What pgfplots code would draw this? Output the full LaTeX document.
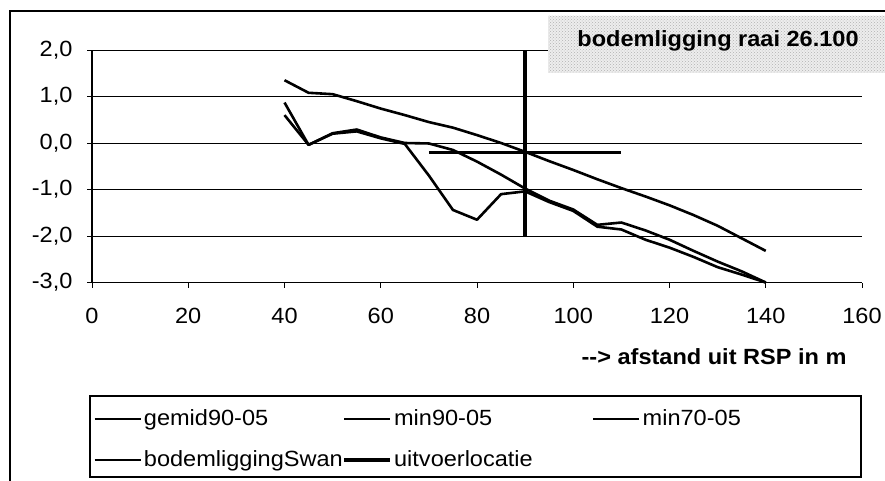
\documentclass[border=0pt]{standalone}
\usepackage{fontspec}
\setmainfont[FakeStretch=1.07]{Liberation Sans}
\usepackage{pgfplots}
\pgfplotsset{compat=1.18}
\usetikzlibrary{patterns}
\begin{document}
\fontsize{22}{26}\selectfont
\begin{tikzpicture}[x=1pt,y=1pt]
\useasboundingbox (0,0) rectangle (885,480);
\begin{axis}[
  at={(92pt,197.5pt)}, anchor=south west, scale only axis,
  width=770pt, height=232.5pt,
  xmin=0, xmax=160, ymin=-3, ymax=2,
  xtick={0,20,...,160}, ytick={-3,-2,...,2},
  axis x line*=bottom, axis y line*=left,
  axis line style={line width=1.2pt, -},
  ymajorgrids, grid style={line width=1pt, black},
  tick align=outside, major tick length=5pt,
  tick style={line width=1pt, black},
  /pgf/number format/assume math mode=true,
  ticklabel style={font=\fontsize{22}{26}\selectfont},
  yticklabel style={xshift=-7pt, /pgf/number format/.cd, fixed, fixed zerofill, precision=1, use comma},
  xticklabel style={yshift=-13pt, /pgf/number format/.cd, fixed, precision=0, 1000 sep={}},
  every axis plot post/.append style={
    legend image code/.code={\draw[#1] (0pt,0pt) -- (46pt,0pt);}},
  legend columns=3,
  legend cell align=left,
  legend style={at={(-0.004,-0.4925)}, anchor=north west, draw=none,
    font=\fontsize{22}{26}\selectfont, inner xsep=4pt, inner ysep=10pt,
    row sep=18pt},
  clip=false,
]
\addplot[black, line width=2.6pt, line join=round] coordinates {
(40,1.35) (45,1.08) (50,1.05) (55,0.90) (60,0.74) (65,0.60) (70,0.45) (75,0.33)
(80,0.17) (85,0.00) (90,-0.19) (95,-0.39) (100,-0.58) (105,-0.78) (110,-0.97)
(115,-1.15) (120,-1.34) (125,-1.55) (130,-1.78) (135,-2.05) (140,-2.32)};
\addlegendentry{\makebox[196pt][l]{gemid90-05}}
\addplot[black, line width=2.6pt, line join=round] coordinates {
(40,0.87) (45,-0.04) (50,0.21) (55,0.29) (60,0.12) (65,0.00) (70,-0.01) (75,-0.15)
(80,-0.40) (85,-0.68) (90,-0.98) (95,-1.24) (100,-1.43) (105,-1.76) (110,-1.71)
(115,-1.88) (120,-2.08) (125,-2.32) (130,-2.55) (135,-2.76) (140,-3.00)};
\addlegendentry{\makebox[196pt][l]{min90-05}}
\addplot[black, line width=2.6pt, line join=round] coordinates {
(40,0.60) (45,-0.04) (50,0.20) (55,0.25) (60,0.10) (65,-0.02) (70,-0.70) (75,-1.44)
(80,-1.65) (85,-1.10) (90,-1.04) (95,-1.27) (100,-1.46) (105,-1.80) (110,-1.86)
(115,-2.08) (120,-2.25) (125,-2.45) (130,-2.67) (135,-2.83) (140,-3.00)};
\addlegendentry{\makebox[196pt][l]{min70-05}}
\addplot[black, line width=2.8pt] coordinates {(70,-0.2) (110,-0.2)};
\addlegendentry{\makebox[196pt][l]{bodemliggingSwan}}
\addplot[black, line width=4.2pt] coordinates {(90,2) (90,-2)};
\addlegendentry{\makebox[196pt][l]{uitvoerlocatie}}
\end{axis}
% legend frame
\draw[line width=1.2pt] (90,3) rectangle (861,84);
% outer chart frame (left and top edges visible)
\draw[line width=2pt] (10,-5) -- (10,469) -- (890,469);
% title box
\fill[gray!14] (548,407) rectangle (890,464);
\fill[pattern=crosshatch dots, pattern color=gray!60] (548,407) rectangle (890,464);
\node[font=\fontsize{22}{26}\selectfont\bfseries] at (718,439) {bodemligging raai 26.100};
% x axis title
\node[anchor=east, font=\fontsize{22}{26}\selectfont\bfseries] at (854,123.5) {-{}-{}> afstand uit RSP in m};
\end{tikzpicture}
\end{document}
